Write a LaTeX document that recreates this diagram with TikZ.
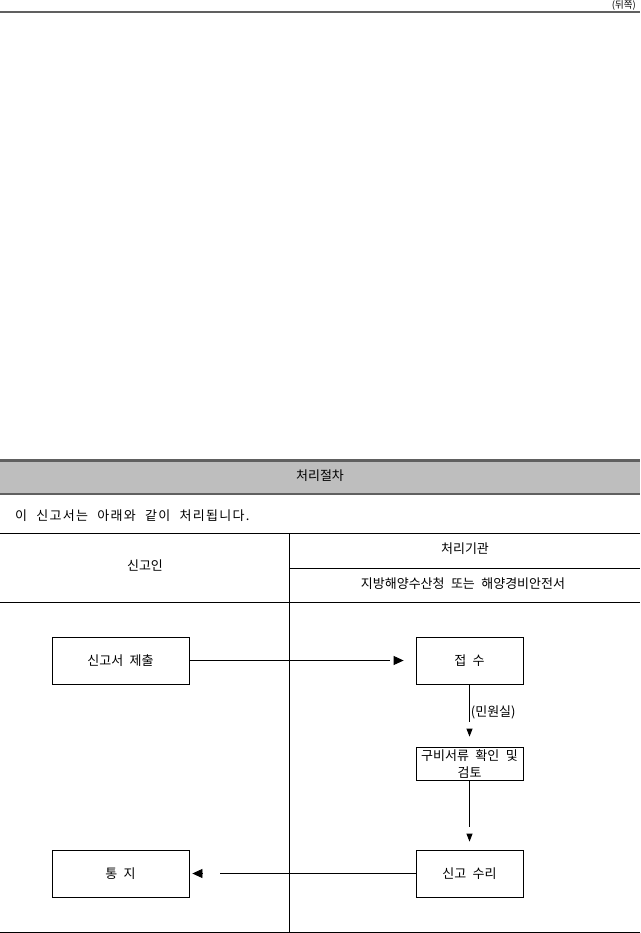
\documentclass[tikz,border=0pt]{standalone}
\usepackage{fontspec}
\setmainfont[WordSpace=2.2]{Noto Sans CJK KR}
\usetikzlibrary{arrows.meta}

\definecolor{rulegray}{HTML}{606060}
\definecolor{bandgray}{HTML}{BEBEBE}

\tikzset{
  txt/.style={inner sep=0pt,font=\fontsize{13}{15}\selectfont},
  widebox/.style={draw,line width=0.8pt,minimum width=137pt,minimum height=47pt,inner sep=0pt,font=\fontsize{13}{15}\selectfont},
  narrowbox/.style={widebox,minimum width=107pt},
  flow/.style={line width=0.8pt},
  htip/.style={line width=0.8pt,-{Triangle[width=9pt,length=10pt]}},
  vtip/.style={line width=0.8pt,-{Triangle[width=6pt,length=8pt]}}
}

\begin{document}
\begin{tikzpicture}[x=1pt,y=-1pt]
	\useasboundingbox (0,0) rectangle (640,933);
	
	%top of the page
	\node[txt,anchor=north east,font=\fontsize{9.5}{10}\selectfont] (side) at (636,0.8) {(뒤쪽)};
	\draw[rulegray,line width=2.5pt] (0,12)--(640,12);
	
	%header band
	\fill[bandgray] (0,460) rectangle (640,494);
	\draw[rulegray,line width=3pt] (0,460)--(640,460);
	\draw[rulegray,line width=1.5pt] (0,494)--(640,494);
	\node[txt] (title) at (320,476) {처리절차};
	\node[txt,anchor=west] (intro) at (15,516) {\addfontfeature{LetterSpace=10}이 신고서는 아래와 같이 처리됩니다.};
	
	%table lines
	\draw[line width=0.8pt] (0,533)--(640,533);
	\draw[line width=0.8pt] (289,533)--(289,933);
	\draw[line width=0.8pt] (289,568)--(640,568);
	\draw[line width=0.8pt] (0,602)--(640,602);
	\draw[line width=0.8pt] (0,932)--(640,932);
	
	\node[txt] (applicant) at (145,566) {신고인};
	\node[txt] (agency)    at (465,549) {처리기관};
	\node[txt] (office)    at (463,584) {지방해양수산청 또는 해양경비안전서};
	
	%boxes
	\node[widebox]  (submit)  at (120.5,660.5) {신고서 제출};
	\node[narrowbox] (receipt) at (469.5,660.5) {접 수};
	\node[narrowbox,minimum height=33pt,align=center,
	      font=\fontsize{13}{17}\selectfont] (review) at (469.5,763.5) {구비서류 확인 및\\검토};
	\node[narrowbox] (accept)  at (469.5,873.5) {신고 수리};
	\node[widebox]  (notify)  at (120.5,873.5) {통 지};
	
	%arrows: line, gap, then the tip on its own
	\draw[flow,shorten >=26pt] (submit) -- (receipt);				%submit--receipt
	\draw[htip,shorten <=205pt,shorten >=12pt] (submit) -- (receipt);
	
	\draw[flow,shorten >=25pt] (receipt) -- (review)				%receipt--review
		node[txt,pos=0.45,anchor=west,xshift=1pt] (desk) {(민원실)};
	\draw[vtip,shorten <=45pt,shorten >=10pt] (receipt) -- (review);
	
	\draw[flow,shorten >=23pt] (review) -- (accept);				%review--accept
	\draw[vtip,shorten <=54pt,shorten >=8pt] (review) -- (accept);
	
	\draw[flow,shorten >=31pt] (accept) -- (notify);				%accept--notify
	\draw[htip,shorten <=213pt,shorten >=3pt] (accept) -- (notify);
\end{tikzpicture}
\end{document}
